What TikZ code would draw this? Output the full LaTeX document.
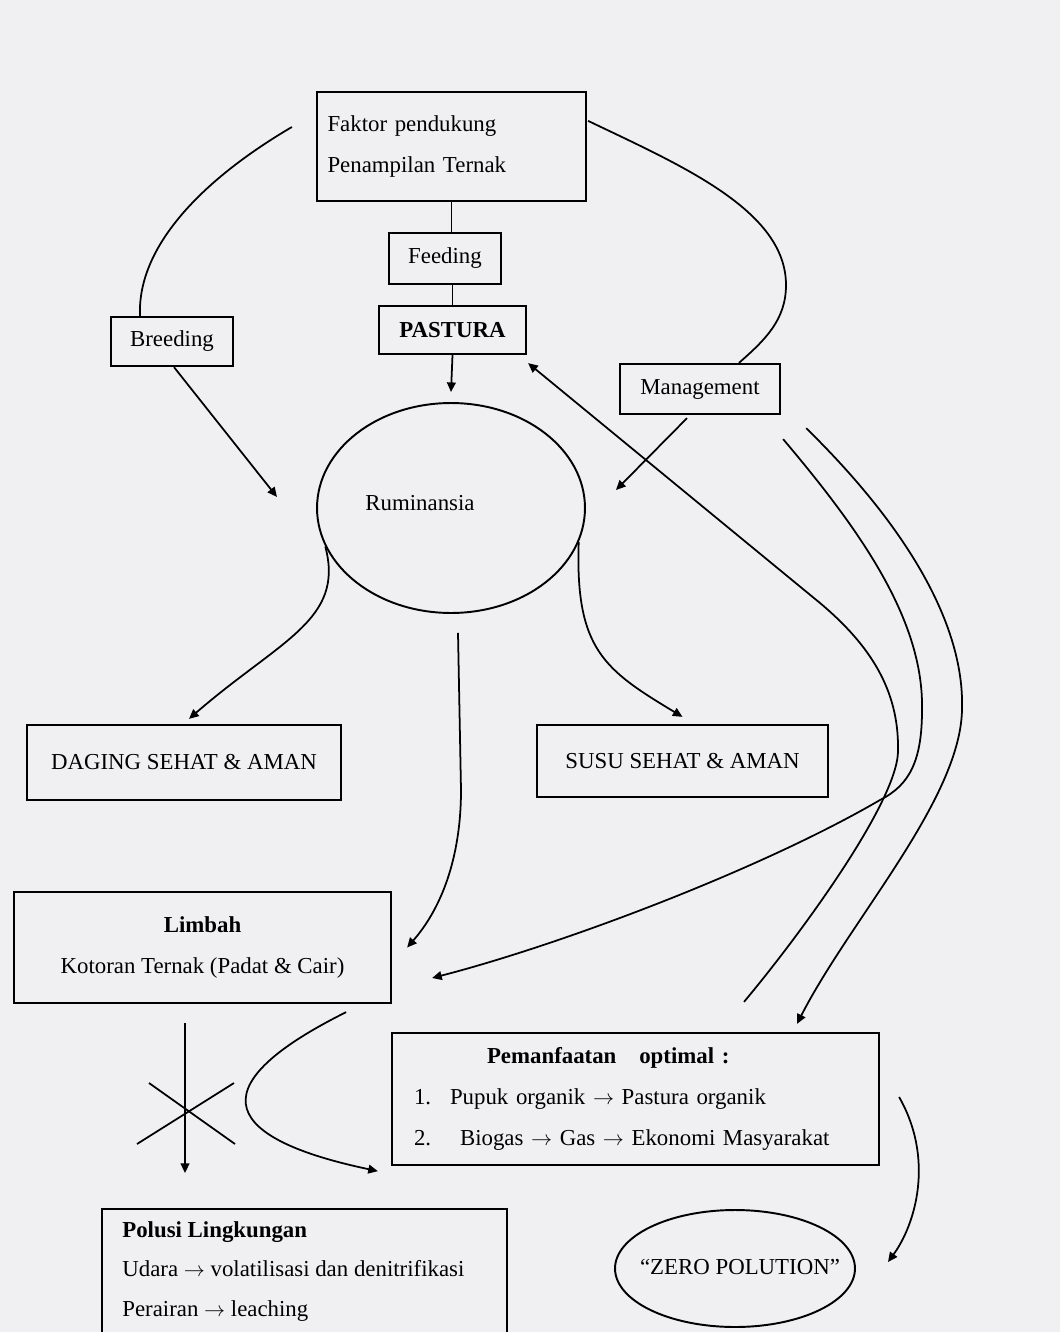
\documentclass[tikz,border=0pt]{standalone}
\usepackage{fontspec}
\setmainfont{Liberation Serif}
\usepackage{tikz}
\usetikzlibrary{shapes.geometric,calc,arrows.meta}
\definecolor{kertas}{RGB}{240,240,243}

\begin{document}
\begin{tikzpicture}[x=0.02cm, y=-0.02cm, >={Triangle[length=5.5pt,width=5pt]},
  kotak/.style={draw, line width=1.3pt, rectangle, inner sep=0pt},
  bulat/.style={draw, line width=1.1pt, ellipse, inner sep=0pt},
  panah/.style={->, line width=1pt},
  garis/.style={line width=1pt},
  tulisan/.style={font=\fontsize{13}{15.5}\selectfont, inner sep=0pt}]

\useasboundingbox (0,0) rectangle (1060,1332);
\fill[kertas] (0,0) rectangle (1060,1332);

% kotak dan elips
\node[kotak, tulisan, minimum width=5.38cm, minimum height=2.18cm, text width=4.96cm, align=left] (faktor) at (451.5,146.5) {Faktor pendukung\\[8pt]Penampilan Ternak};
\node[kotak, tulisan, minimum width=2.24cm, minimum height=1.02cm] (feeding) at (445,258.5) {Feeding};
\node[kotak, tulisan, minimum width=2.94cm, minimum height=0.96cm] (pastura) at (452.5,330) {\textbf{PASTURA}};
\node[kotak, tulisan, minimum width=2.44cm, minimum height=0.98cm] (breeding) at (172,341.5) {Breeding};
\node[kotak, tulisan, minimum width=3.2cm, minimum height=1cm] (management) at (700,389) {Management};
\node[bulat, minimum width=5.36cm, minimum height=4.2cm] (rum) at (451,508) {};
\node[tulisan] (rumteks) at (420,503) {Ruminansia};
\node[kotak, tulisan, minimum width=6.28cm, minimum height=1.5cm] (daging) at (184,762.5) {DAGING SEHAT \& AMAN};
\node[kotak, tulisan, minimum width=5.82cm, minimum height=1.44cm] (susu) at (682.5,761) {SUSU SEHAT \& AMAN};
\node[kotak, tulisan, minimum width=7.54cm, minimum height=2.22cm, align=center] (limbah) at (202.5,947.5) {\textbf{Limbah}\\[8pt]Kotoran Ternak (Padat \& Cair)};
\node[kotak, tulisan, minimum width=9.74cm, minimum height=2.64cm, text width=8.86cm, align=left] (manfaat) at (635.5,1099) {\hspace*{1.46cm}\textbf{Pemanfaatan\quad optimal :}\\[8pt]\makebox[0.72cm][l]{1.}Pupuk organik $\rightarrow$ Pastura organik\\[8pt]\makebox[0.92cm][l]{2.}Biogas $\rightarrow$ Gas $\rightarrow$ Ekonomi Masyarakat};
\node[kotak, minimum width=8.1cm, minimum height=3cm, anchor=north west] (polusi) at (101,1208) {};
\node[tulisan, anchor=north west, align=left] (polusiteks) at (122,1221) {\textbf{Polusi Lingkungan}\\[7pt]Udara $\rightarrow$ volatilisasi dan denitrifikasi\\[7pt]Perairan $\rightarrow$ leaching};
\node[bulat, minimum width=4.8cm, minimum height=2.34cm] (zero) at (735,1268.5) {};
\node[tulisan] (zeroteks) at (740,1267) {``ZERO POLUTION''};

% garis tengah
\draw[garis] (faktor.south) -- (faktor.south |- feeding.north);
\draw[garis] (feeding.south -| pastura.north) -- (pastura.north);
\draw[panah] (pastura.south) -- ($(rum.north)+(0,-10)$);

% lengkung atas
\draw[garis] ($(faktor.west)+(-24,-19.5)$) .. controls (205,178) and (137,245) .. ($(breeding.north)+(-32,0)$);
\draw[panah] ($(breeding.south)+(2,0)$) -- ($(rum.center)+(-174,-11)$);
\draw[garis] ($(faktor.north east)+(1,30)$) .. controls (680,165) and (786,210) .. (786,285) .. controls (786,320) and (765,340) .. ($(management.north)+(39,0)$);
\draw[panah] ($(management.south)+(-13,3)$) -- ($(rum.center)+(165,-18)$);

% hasil ternak
\draw[panah] (rum.197) .. controls (345,620) and (280,640) .. ($(daging.north)+(5,-5)$);
\draw[panah] (rum.345) .. controls (575,650) and (605,670) .. ($(susu.north)+(0,-7)$);
\draw[panah] ($(rum.south)+(7,19)$) -- (461,790) .. controls (461,860) and (440,910) .. ($(limbah.east)+(15,0)$);

% lengkung kanan
\draw[panah] ($(manfaat.north)+(108.5,-30)$) .. controls (800,935) and (899,800) .. (898,750) .. controls (899,690) and (870,645) .. (820,603) -- ($(pastura.south east)+(1,8)$);
\draw[panah] ($(management.south east)+(2,24)$) .. controls (860,530) and (924,620) .. (922,710) .. controls (922,760) and (910,785) .. (880,800) .. controls (760,870) and (560,945) .. ($(limbah.east)+(40,30.5)$);
\draw[panah] ($(management.south east)+(25,13)$) .. controls (900,520) and (965,620) .. (962,710) .. controls (960,800) and (850,920) .. ($(manfaat.north)+(161.5,-8)$);

% limbah
\draw[panah] ($(limbah.south)+(-17.5,19)$) -- ($(polusi.north west)+(84,-35)$);
\coordinate (silang) at (186,1112);
\draw[garis] ($(silang)+(-37,-29)$) -- ($(silang)+(49,32)$);
\draw[garis] ($(silang)+(-49,32)$) -- ($(silang)+(48,-29)$);
\draw[panah] ($(limbah.south east)+(-46,8)$) .. controls (190,1090) and (230,1140) .. ($(manfaat.south west)+(-13,5)$);
\draw[panah] ($(manfaat.east)+(19,-2)$) .. controls (935,1160) and (915,1225) .. ($(zero.center)+(153,-6.5)$);
\end{tikzpicture}
\end{document}
